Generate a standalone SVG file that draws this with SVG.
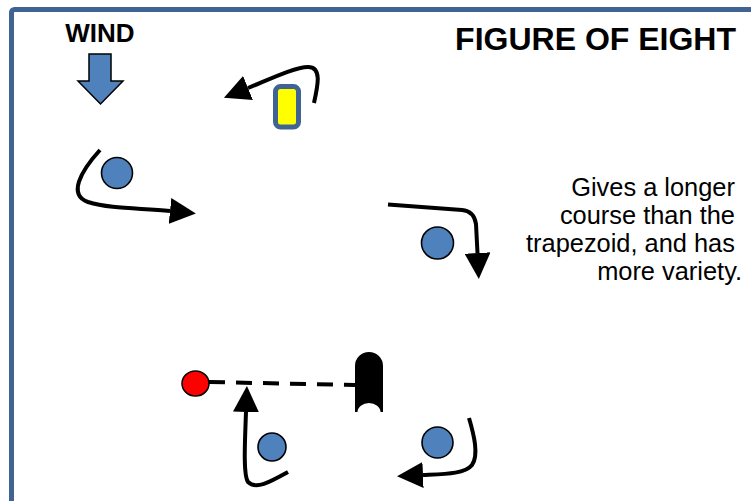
<svg xmlns="http://www.w3.org/2000/svg" width="751" height="501" viewBox="0 0 751 501">
<defs>
<style>
.buoy{fill:#4F81BD;stroke:#000;stroke-width:1.6}
.route{fill:none;stroke:#000;stroke-width:4;stroke-linecap:butt}
.t{font-family:"Liberation Sans",Arial,sans-serif;fill:#000}
</style>
<marker id="ah" markerUnits="userSpaceOnUse" markerWidth="26" markerHeight="26" viewBox="0 0 25 25" refX="0" refY="12.5" orient="auto">
<path d="M0,0 L25,12.5 L0,25 Z" fill="#000"/>
</marker>
</defs>
<rect x="0" y="0" width="751" height="501" fill="#fff"/>
<rect id="frame" x="11.5" y="9.5" width="780" height="540" rx="3" fill="none" stroke="#3F6493" stroke-width="5"/>

<g id="title"><text class="t" x="736" y="50" font-size="32" font-weight="bold" text-anchor="end">FIGURE OF EIGHT</text></g>
<g id="wind">
<text class="t" x="100" y="42" font-size="26" font-weight="bold" text-anchor="middle">WIND</text>
<polygon points="89,54 111,54 111,81 123,81 100.5,104 78,81 89,81" fill="#4F81BD" stroke="#000" stroke-width="1.5"/>
</g>
<g id="note">
<text class="t" font-size="25.4" text-anchor="end">
<tspan x="742" y="196">Gives a longer</tspan>
<tspan x="742" y="224">course than the</tspan>
<tspan x="742" y="252">trapezoid, and has</tspan>
<tspan x="742" y="280">more variety.</tspan>
</text>
</g>
<g id="boat"><rect x="275.5" y="86.5" width="23" height="40.5" rx="5" fill="#FFFF00" stroke="#3F6493" stroke-width="5"/></g>
<g id="mark1"><circle class="buoy" cx="117" cy="173" r="15.5"/></g>
<g id="mark2"><circle class="buoy" cx="437.5" cy="243" r="16"/></g>
<g id="mark3"><circle class="buoy" cx="272" cy="447" r="14"/></g>
<g id="mark4"><circle class="buoy" cx="437.5" cy="442.5" r="15.5"/></g>
<g id="pin"><ellipse cx="195.5" cy="383.5" rx="13.5" ry="12.5" fill="#FF0000" stroke="#000" stroke-width="1.5"/></g>
<g id="committee"><path d="M355,366 A14,14 0 0 1 383,366 L383,412 L380.5,412 A11.5,9 0 0 0 357.5,412 L355,412 Z" fill="#000"/></g>

<g id="connectors">
<line x1="209" y1="382" x2="355" y2="385" stroke="#000" stroke-width="4" stroke-dasharray="16,11"/>
<path class="route" d="M314,103 C318,85 322,67 308,67 C295,67 270,79 248,88" marker-end="url(#ah)"/>
<path class="route" d="M100,150 C80,172 68,195 88,202 C110,209 140,208 170,211" marker-end="url(#ah)"/>
<path class="route" d="M388,204.5 L462,210 Q474,211 476,224 L477.5,253" marker-end="url(#ah)"/>
<path class="route" d="M288,472 C270,482 256,490 248,482 C243,475 245,440 246,412" marker-end="url(#ah)"/>
<path class="route" d="M469,418 C474,435 479,455 472,465 C465,474 445,474 423,475" marker-end="url(#ah)"/>
</g>
</svg>
